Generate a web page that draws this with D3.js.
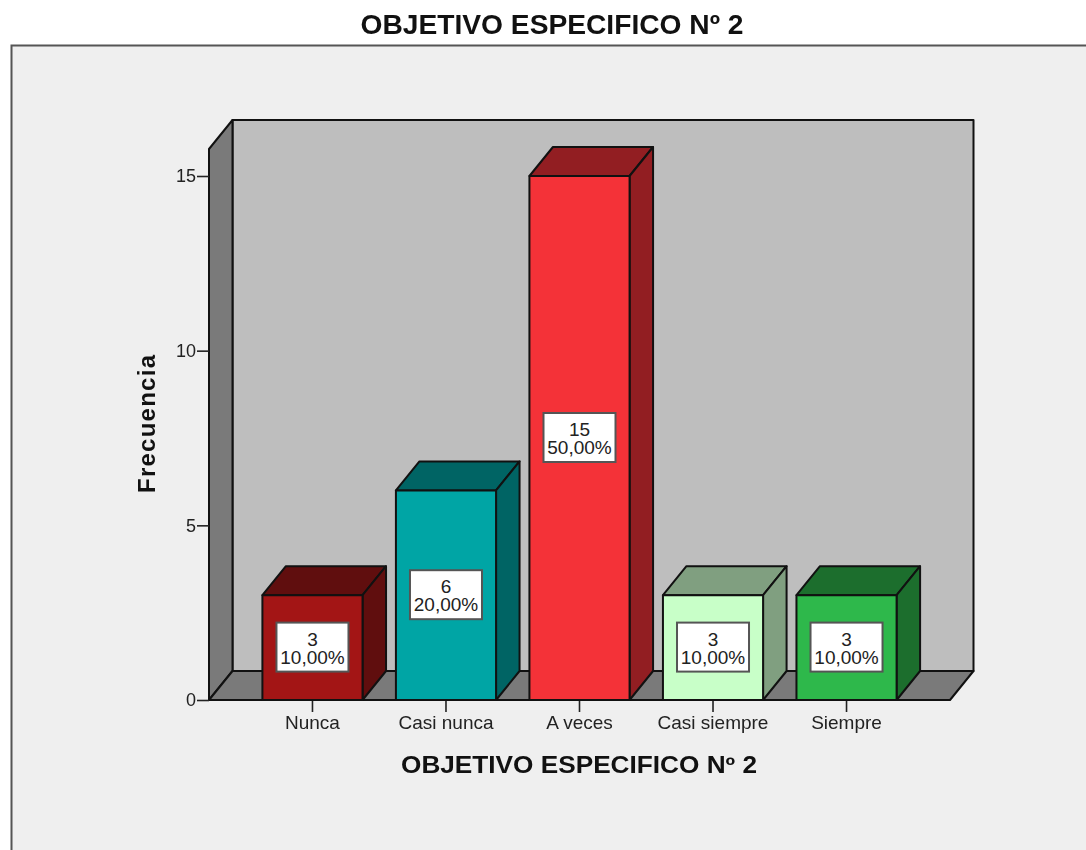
<!DOCTYPE html>
<html>
<head>
<meta charset="utf-8">
<script src="https://cdn.jsdelivr.net/npm/d3@7"></script>
<style>
  html, body { margin: 0; padding: 0; background: #fff; }
  svg { display: block; filter: blur(0.45px); }
  text { font-family: "Liberation Sans", Arial, sans-serif; fill: #222; }
</style>
</head>
<body>
<div id="vis-display"></div>
<script>
const CATEGORIES = ["Nunca", "Casi nunca", "A veces", "Casi siempre", "Siempre"];
const VALUES     = [3, 6, 15, 3, 3];
const PERCENTS   = ["10,00%", "20,00%", "50,00%", "10,00%", "10,00%"];
const Y_TICKS    = [0, 5, 10, 15];
const TITLE      = "OBJETIVO ESPECIFICO Nº 2";
const Y_TITLE    = "Frecuencia";

const FRONT = ["#a31515", "#00a5a5", "#f43238", "#c8ffc8", "#2eb84b"];
const TOP   = ["#600e0e", "#006464", "#921e22", "#809f80", "#1c6e2d"];

const W = 1086, H = 850;
const DX = 23.5, DY = -29;   // depth offset of the fake 3D box
const X0 = 209, X1 = 950;

const frontColor = d3.scaleOrdinal().domain(CATEGORIES).range(FRONT);
const darkColor  = d3.scaleOrdinal().domain(CATEGORIES).range(TOP);

const xScale = d3.scaleBand()
  .domain(CATEGORIES)
  .range([X0, X1])
  .paddingInner(0.25)
  .paddingOuter(0.4);

const yScale = d3.scaleLinear()
  .domain([0, 15])
  .range([700, 176]);

const svg = d3.select("#vis-display").append("svg")
  .attr("width", W)
  .attr("height", H);

// ── Outer panel ──────────────────────────────────────────────────────────────

svg.append("rect")
  .attr("x", 11.5).attr("y", 45.5)
  .attr("width", W + 10).attr("height", H)
  .attr("fill", "#efefef")
  .attr("stroke", "#555")
  .attr("stroke-width", 2);

svg.append("text")
  .attr("x", 552).attr("y", 34)
  .attr("text-anchor", "middle")
  .attr("textLength", 383).attr("lengthAdjust", "spacingAndGlyphs")
  .style("font-size", "27px").style("font-weight", "bold")
  .style("fill", "#111")
  .text(TITLE);

// ── Walls ────────────────────────────────────────────────────────────────────

const yB = yScale(0);
const yT = 149;   // top of the side wall

const poly = pts => pts.map(p => p.join(",")).join(" ");
const walls = svg.append("g")
  .attr("stroke", "#111").attr("stroke-width", 2).attr("stroke-linejoin", "round");

walls.append("polygon")
  .attr("points", poly([[X0 + DX, yB + DY], [X1 + DX, yB + DY], [X1 + DX, yT + DY], [X0 + DX, yT + DY]]))
  .attr("fill", "#bebebe");
walls.append("polygon")
  .attr("points", poly([[X0, yB], [X0 + DX, yB + DY], [X0 + DX, yT + DY], [X0, yT]]))
  .attr("fill", "#7a7a7a");
walls.append("polygon")
  .attr("points", poly([[X0, yB], [X1, yB], [X1 + DX, yB + DY], [X0 + DX, yB + DY]]))
  .attr("fill", "#7a7a7a");

// ── Axes ─────────────────────────────────────────────────────────────────────

const yAxis = svg.append("g")
  .attr("transform", `translate(${X0},0)`)
  .call(d3.axisLeft(yScale).tickValues(Y_TICKS).tickSize(12).tickPadding(1))
  .call(ax => ax.select(".domain").remove());
yAxis.selectAll("line").attr("stroke", "#222").attr("stroke-width", 1.6);
yAxis.selectAll("text").style("font-size", "18px").style("font-family", null);

const xAxis = svg.append("g")
  .attr("transform", `translate(0,${yB})`)
  .call(d3.axisBottom(xScale).tickSize(12).tickPadding(4))
  .call(ax => ax.select(".domain").remove());
xAxis.selectAll("line").attr("stroke", "#222").attr("stroke-width", 1.6);
xAxis.selectAll("text").style("font-size", "19px").style("font-family", null);

svg.append("text")
  .attr("x", 579).attr("y", 773)
  .attr("text-anchor", "middle")
  .attr("textLength", 356).attr("lengthAdjust", "spacingAndGlyphs")
  .style("font-size", "23px").style("font-weight", "bold")
  .style("fill", "#111")
  .text(TITLE);

svg.append("text")
  .attr("transform", "translate(155,424) rotate(-90)")
  .attr("text-anchor", "middle")
  .attr("textLength", 138).attr("lengthAdjust", "spacing")
  .style("font-size", "24px").style("font-weight", "bold")
  .style("fill", "#111")
  .text(Y_TITLE);

// ── Bars ─────────────────────────────────────────────────────────────────────

const bw = xScale.bandwidth();
const rows = CATEGORIES.map((c, i) => ({ c, v: VALUES[i], pct: PERCENTS[i] }));

const bars = svg.append("g").selectAll("g")
  .data(rows)
  .join("g")
  .attr("stroke", "#111").attr("stroke-width", 2).attr("stroke-linejoin", "round");

bars.append("polygon")   // top face
  .attr("fill", d => darkColor(d.c))
  .attr("points", d => {
    const x = xScale(d.c), y = yScale(d.v);
    return poly([[x, y], [x + bw, y], [x + bw + DX, y + DY], [x + DX, y + DY]]);
  });

bars.append("polygon")   // side face
  .attr("fill", d => darkColor(d.c))
  .attr("points", d => {
    const x = xScale(d.c) + bw, y = yScale(d.v);
    return poly([[x, y], [x, yB], [x + DX, yB + DY], [x + DX, y + DY]]);
  });

bars.append("rect")      // front face
  .attr("fill", d => frontColor(d.c))
  .attr("x", d => xScale(d.c))
  .attr("y", d => yScale(d.v))
  .attr("width", bw)
  .attr("height", d => yB - yScale(d.v));

// ── Value labels ─────────────────────────────────────────────────────────────

const labels = svg.append("g").selectAll("g")
  .data(rows)
  .join("g")
  .attr("transform", d => `translate(${xScale(d.c) + bw / 2},${yScale(d.v / 2)})`);

labels.append("rect")
  .attr("x", -36).attr("y", -25)
  .attr("width", 72).attr("height", 49)
  .attr("fill", "#fff")
  .attr("stroke", "#555")
  .attr("stroke-width", 2);

// one text element with two lines, tight leading as in the original
const labelText = labels.append("text")
  .attr("text-anchor", "middle")
  .style("font-size", "19px");
labelText.append("tspan").attr("x", 0).attr("y", -2).text(d => d.v);
labelText.append("tspan").attr("x", 0).attr("y", 16).text(d => d.pct);
</script>
</body>
</html>
